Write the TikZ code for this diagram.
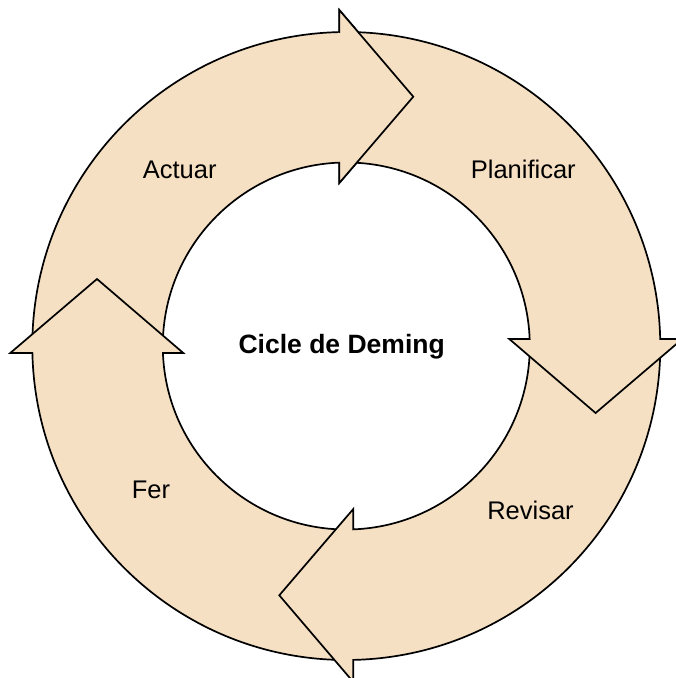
\documentclass[tikz,border=0pt]{standalone}
\usepackage{fontspec}
\setmainfont{Liberation Sans}
\definecolor{ringfill}{RGB}{245,224,195}
\tikzset{
  arrowstyle/.style={draw=black, fill=ringfill, line width=1.7pt, line join=miter},
  lbl/.style={font=\fontsize{25.5}{30}\selectfont, inner sep=0pt, anchor=base},
  cyclearrow/.pic={
    \path[arrowstyle] (180:314) arc[start angle=180, end angle=91.277, radius=314]
      -- (-7,336) -- (67,249.3) -- (-7,163) -- (-7,183.37)
      arc[start angle=92.186, end angle=180, radius=183.5] -- cycle;
  }
}
\begin{document}
\begin{tikzpicture}[x=1pt,y=1pt]
\useasboundingbox (-346.3,-332) rectangle (329.7,346);
\pic (actuar) {cyclearrow};
\pic[rotate=90] (fer) {cyclearrow};
\pic[rotate=180] (revisar) {cyclearrow};
\pic[rotate=-90] (planificar) {cyclearrow};
\begin{scope}
  \clip (-7.6,352) -- (78,249.3) -- (-7.6,148) -- cycle;
  \pic (actuarhead) {cyclearrow};
\end{scope}
\node[lbl] (tactuar) at (-166.6,167.7) {Actuar};
\node[lbl] (tplan) at (177,167.7) {Planificar};
\node[lbl] (trev) at (184.2,-173) {Revisar};
\node[lbl] (tfer) at (-195.3,-152.3) {Fer};
\node[lbl, font=\fontsize{26.5}{31}\selectfont\bfseries] (center) at (-4.6,-7.3) {Cicle de Deming};
\end{tikzpicture}
\end{document}
